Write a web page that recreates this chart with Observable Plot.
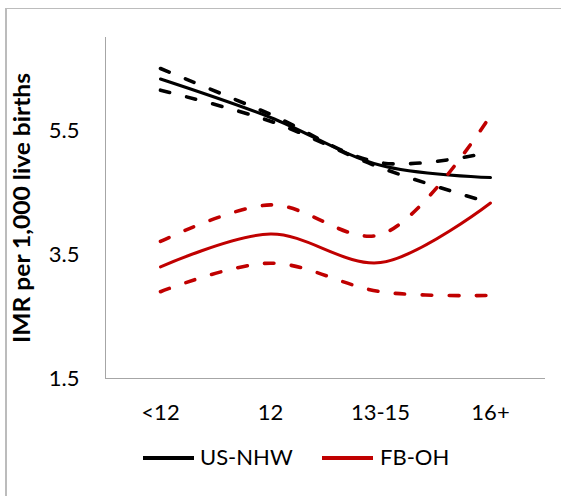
<!DOCTYPE html>
<html>
<head>
<meta charset="utf-8">
<script src="https://cdn.jsdelivr.net/npm/d3@7"></script>
<script src="https://cdn.jsdelivr.net/npm/@observablehq/plot@0.6"></script>
<style>
  html, body { margin: 0; padding: 0; background: #fff; }
  #wrap { position: relative; width: 561px; height: 496px; overflow: hidden; font-family: Lato, "Open Sans", sans-serif; }
  #frame { position: absolute; left: 5px; top: 8px; width: 600px; height: 600px; border-left: 2px solid #bcbcbc; border-top: 1px solid #bcbcbc; }
  #chart { position: absolute; left: 0; top: 0; }
  #legend { position: absolute; top: 443px; left: 0; width: 561px; height: 28px; font-size: 22px; color: #000; }
  .sw { position: absolute; top: 13px; height: 4px; width: 51px; }
  .lb { position: absolute; top: 0; line-height: 28px; }
</style>
</head>
<body>
<div id="wrap">
  <div id="frame"></div>
  <div id="chart"></div>
  <div id="legend">
    <div class="sw" style="left:143px;background:#000"></div>
    <div class="lb" style="left:200px">US-NHW</div>
    <div class="sw" style="left:322px;background:#C00000"></div>
    <div class="lb" style="left:380px">FB-OH</div>
  </div>
</div>
<script>
const categories = ["<12", "12", "13-15", "16+"];
const yTicks = [1.5, 3.5, 5.5];
const yTitle = "IMR per 1,000 live births";

const usNhw      = [6.33, 5.71, 4.94, 4.74];
const usNhwUpper = [6.50, 5.76, 4.98, 5.15];
const usNhwLower = [6.15, 5.65, 4.90, 4.33];

const fbOh      = [3.30, 3.83, 3.37, 4.33];
const fbOhUpper = [3.71, 4.30, 3.82, 5.74];
const fbOhLower = [2.90, 3.36, 2.90, 2.84];

const toRows = (vals) => categories.map((c, i) => ({cat: c, v: vals[i]}));

const solid = {curve: "catmull-rom", strokeWidth: 3, strokeLinecap: "round"};
const dashed = {curve: "catmull-rom", strokeWidth: 3.6, strokeLinecap: "round", strokeDasharray: "9.5,17.5"};

const chart = Plot.plot({
  width: 561,
  height: 496,
  marginLeft: 105,
  marginRight: 16,
  marginTop: 37,
  marginBottom: 118,
  style: {fontFamily: "Lato, 'Open Sans', sans-serif", fontSize: "22px", background: "transparent"},
  x: {type: "point", domain: categories, padding: 0.5},
  y: {domain: [1.5, 7]},
  marks: [
    Plot.axisY({ticks: yTicks, tickSize: 0, tickPadding: 26, tickFormat: d => d.toFixed(1), fontSize: 22, label: null, fill: "#000"}),
    Plot.axisX({tickSize: 0, tickPadding: 26, fontSize: 22, label: null, fill: "#000"}),
    Plot.frame({anchor: "left", stroke: "#a6a6a6", strokeWidth: 1}),
    Plot.ruleY([1.5], {stroke: "#a6a6a6", strokeWidth: 1}),
    Plot.line(toRows(usNhwUpper), {x: "cat", y: "v", stroke: "#000", ...dashed}),
    Plot.line(toRows(usNhwLower), {x: "cat", y: "v", stroke: "#000", ...dashed}),
    Plot.line(toRows(usNhw), {x: "cat", y: "v", stroke: "#000", ...solid}),
    Plot.line(toRows(fbOhUpper), {x: "cat", y: "v", stroke: "#C00000", ...dashed}),
    Plot.line(toRows(fbOhLower), {x: "cat", y: "v", stroke: "#C00000", ...dashed}),
    Plot.line(toRows(fbOh), {x: "cat", y: "v", stroke: "#C00000", ...solid}),
    Plot.text([yTitle], {frameAnchor: "left", textAnchor: "middle", rotate: -90, dx: -83, fontWeight: "bold", fontSize: 23, fill: "#000", className: "ytitle"})
  ]
});
document.getElementById("chart").appendChild(chart);
chart.querySelectorAll("text").forEach(t => {
  if (t.textContent === yTitle) {
    t.setAttribute("textLength", "270");
    t.setAttribute("lengthAdjust", "spacingAndGlyphs");
  }
});
</script>
</body>
</html>
